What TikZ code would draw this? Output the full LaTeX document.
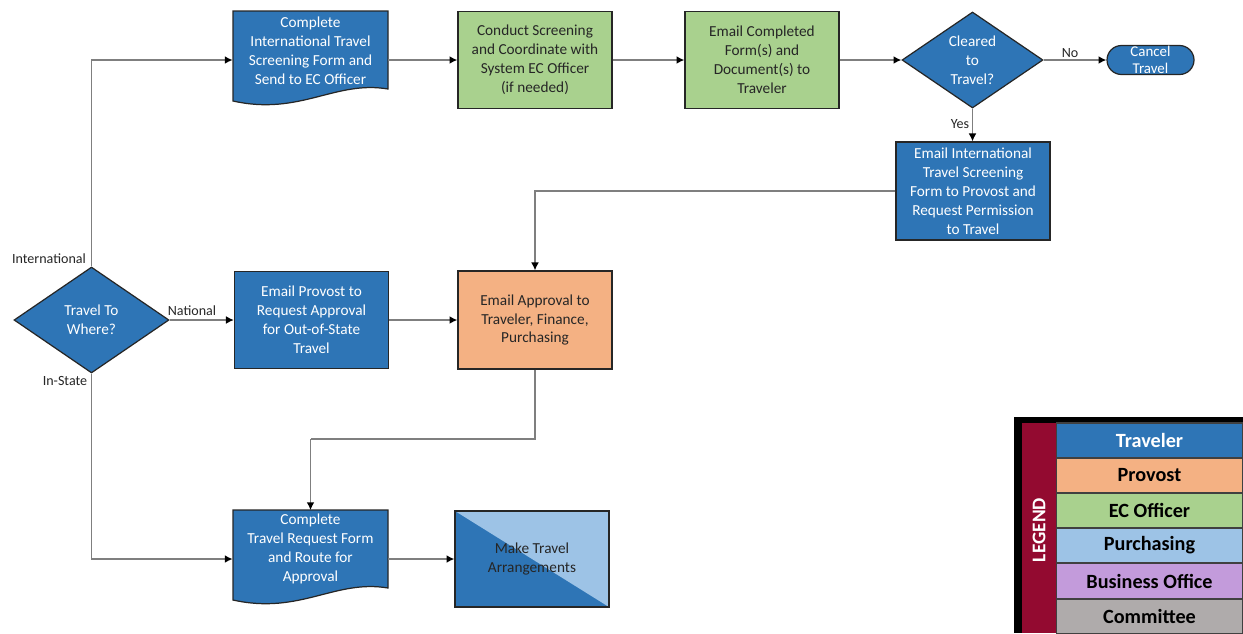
\documentclass[tikz,border=0pt]{standalone}
\usepackage{fontspec}
\setmainfont{Carlito}
\usetikzlibrary{shapes.geometric,shapes.misc,arrows.meta,calc}
\definecolor{tblue}{HTML}{2E75B6}
\definecolor{torange}{HTML}{F4B183}
\definecolor{tgreen}{HTML}{A9D18E}
\definecolor{tlblue}{HTML}{9DC3E6}
\definecolor{tpurple}{HTML}{C39BDB}
\definecolor{tgray}{HTML}{AFABAB}
\definecolor{tmaroon}{HTML}{930A30}
\definecolor{tline}{HTML}{7F7F7F}
\newcommand\tvboxfont{\fontsize{8.7}{10.8}\selectfont}
\newcommand\tvlblfont{\fontsize{8}{9}\selectfont}
\newcommand\tvlegfont{\fontsize{11.5}{13}\selectfont\bfseries}
\tikzset{
  box/.style={rectangle, draw=black!85, line width=0.7pt, minimum width=3.08cm, minimum height=1.94cm, align=center, font=\tvboxfont, inner sep=1pt},
  bluebox/.style={box, fill=tblue, text=white},
  greenbox/.style={box, fill=tgreen, text=black!85},
  orangebox/.style={box, fill=torange, text=black!85},
  docarea/.style={rectangle, minimum width=3.1cm, minimum height=1.94cm, inner sep=0pt},
  doctext/.style={align=center, font=\tvboxfont, text=white, inner sep=0pt},
  docshape/.style={fill=tblue, draw=black!85, line width=0.7pt},
  decision/.style={diamond, draw=black!85, line width=0.7pt, fill=tblue, text=white, align=center, font=\tvboxfont, inner sep=0pt},
  conn/.style={draw=tline, line width=0.9pt, -{Latex[length=4.5pt,width=4.5pt,color=black]}},
  plainconn/.style={draw=tline, line width=0.9pt},
  lbl/.style={font=\tvlblfont, text=black!85, inner sep=0pt},
  legrow/.style={rectangle, draw=black!75, line width=0.6pt, minimum width=3.74cm, minimum height=0.7cm, font=\tvlegfont, inner sep=0pt}
}
\begin{document}
\begin{tikzpicture}[x=0.02cm,y=-0.02cm]
\useasboundingbox (0,0) rectangle (1243,633);

% document shapes
\draw[docshape] (233,11) -- (388,11) -- (388,89) .. controls (335,80) and (300,116) .. (233,101) -- cycle;
\draw[docshape] (233,510) -- (388,510) -- (388,588) .. controls (335,579) and (300,615) .. (233,600) -- cycle;
\node[docarea] (d1) at (310.5,60) {};
\node[doctext] (d1t) at (310.5,50.5) {Complete\\International Travel\\Screening Form and\\Send to EC Officer};
\node[docarea] (d2) at (310.5,559) {};
\node[doctext] (d2t) at (310.5,549) {Complete\\Travel Request Form\\and Route for\\Approval};

% boxes
\node[greenbox] (g1) at (535,60) {Conduct Screening\\and Coordinate with\\System EC Officer\\(if needed)};
\node[greenbox] (g2) at (762,60) {Email Completed\\Form(s) and\\Document(s) to\\Traveler};
\node[decision, minimum width=2.82cm, minimum height=1.92cm] (dc) at (972.5,60) {Cleared\\to\\Travel?};
\node[rounded rectangle, draw=black!85, line width=0.7pt, fill=tblue, text=white, minimum width=1.74cm, minimum height=0.58cm, inner sep=0pt, align=center, font=\fontsize{8.5}{9.6}\selectfont] (cx) at (1150.5,60) {Cancel\\Travel};
\node[bluebox, minimum height=1.96cm] (ei) at (973,191) {Email International\\Travel Screening\\Form to Provost and\\Request Permission\\to Travel};
\node[decision, minimum width=3.1cm, minimum height=2.12cm] (dt) at (91.5,320) {Travel To\\Where?};
\node[bluebox] (ep) at (311.5,320) {Email Provost to\\Request Approval\\for Out-of-State\\Travel};
\node[orangebox, minimum height=1.96cm] (or) at (535,320) {Email Approval to\\Traveler, Finance,\\Purchasing};

% make travel arrangements
\fill[tblue] (455,511) rectangle (609,607);
\fill[tlblue] (455,511) -- (609,511) -- (609,607) -- cycle;
\node[box, minimum width=3.08cm, minimum height=1.92cm, text=black!85] (mt) at (532,559) {Make Travel\\Arrangements};

% connectors
\draw[conn] (dt.north) |- (d1.west);
\draw[conn] (dt.east) -- (ep.west);
\draw[conn] (dt.south) |- (d2.west);
\draw[conn] (d1.east) -- (g1.west);
\draw[conn] (g1.east) -- (g2.west);
\draw[conn] (g2.east) -- (dc.west);
\draw[conn] (dc.east) -- (cx.west);
\draw[conn] (dc.south) -- (dc.south |- ei.north);
\draw[conn] (ei.west) -| (or.north);
\draw[conn] (ep.east) -- (or.west);
\coordinate (bend) at (310.5,439);
\draw[plainconn] (or.south) |- (bend);
\draw[conn] (bend) -- (d2.north);
\draw[conn] (d2.east) -- (mt.west);

% labels
\node[lbl] (lNo) at (1070,53) {No};
\node[lbl] (lYes) at (960,124) {Yes};
\node[lbl] (lInt) at (49,259) {International};
\node[lbl] (lNat) at (192,311) {National};
\node[lbl] (lIn) at (65,381) {In-State};

% legend
\fill[black] (1014,417) rectangle (1243,633);
\fill[tmaroon] (1022,423) rectangle (1056,633);
\node[rotate=90, text=white, font=\fontsize{11}{12}\selectfont\bfseries, inner sep=0pt] (legt) at (1039,530) {LEGEND};
\node[legrow, fill=tblue, text=white] (r1) at (1149.5,440.5) {Traveler};
\node[legrow, fill=torange] (r2) at (1149.5,475.5) {Provost};
\node[legrow, fill=tgreen] (r3) at (1149.5,510.5) {EC Officer};
\node[legrow, fill=tlblue] (r4) at (1149.5,545.5) {Purchasing};
\node[legrow, fill=tpurple] (r5) at (1149.5,581) {Business Office};
\node[legrow, fill=tgray] (r6) at (1149.5,616.5) {Committee};
\end{tikzpicture}
\end{document}
